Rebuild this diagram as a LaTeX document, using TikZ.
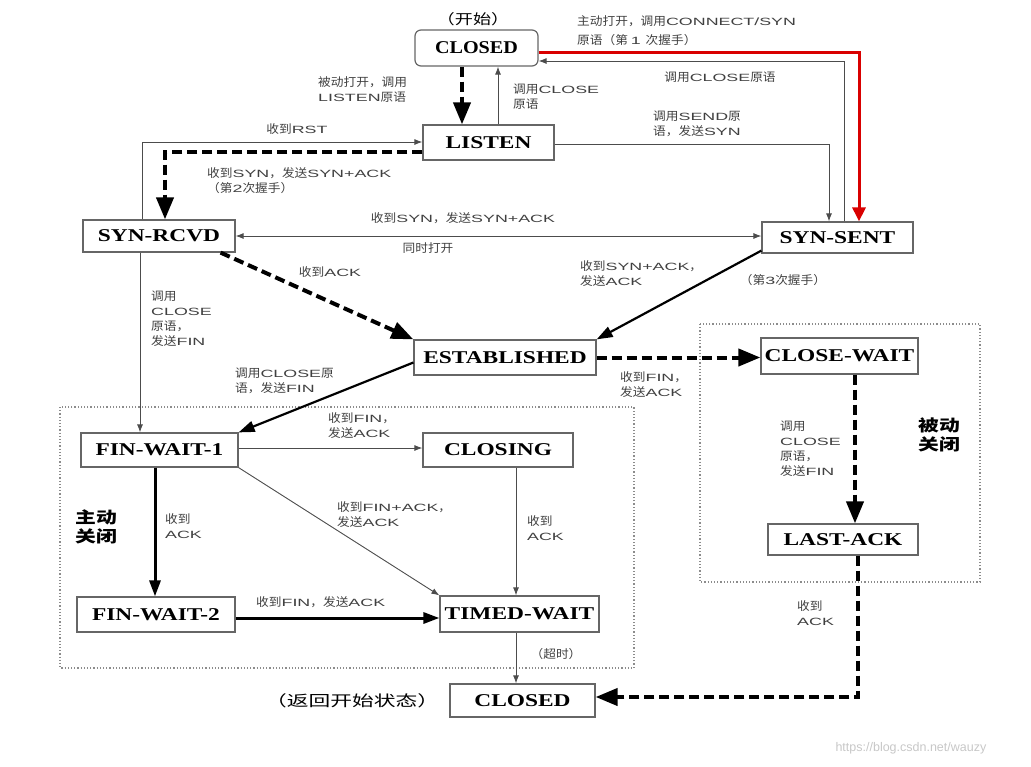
\documentclass[tikz,border=0pt]{standalone}
\usepackage{fontspec}
\usetikzlibrary{arrows.meta}
\setmainfont{Liberation Serif}
\newfontfamily\latfn[FakeStretch=1.7]{Liberation Sans}
\newfontfamily\cjkfn[FakeStretch=1.08,Scale=1.12]{Noto Sans CJK SC}
\newfontfamily\cjkmid[FakeStretch=1.3]{Noto Sans CJK SC}
\newfontfamily\cjkbig[FakeStretch=1.3]{Noto Sans CJK SC}
\newfontfamily\cjkwide[FakeStretch=1.45]{Noto Sans CJK SC}
\newfontfamily\stfn[FakeStretch=1.3]{Liberation Serif}
\newfontfamily\stfnb[FakeStretch=1.12]{Liberation Serif}
\newfontfamily\wmfn{Liberation Sans}

% han characters get their own font, latin letters the wide one
\newXeTeXintercharclass\hanclass
\count255="3000
\loop
  \XeTeXcharclass\count255=\hanclass
  \advance\count255 by 1
\ifnum\count255<"A000
\repeat
\count255="FF00
\loop
  \XeTeXcharclass\count255=\hanclass
  \advance\count255 by 1
\ifnum\count255<"FFF0
\repeat
\XeTeXinterchartoks 0 \hanclass = {\cjkfn}
\XeTeXinterchartoks 4095 \hanclass = {\cjkfn}
\XeTeXinterchartoks \hanclass 0 = {\latfn}
\XeTeXinterchartoks 4095 0 = {\latfn}

\newcommand\labfont{\fontsize{10.5}{15}\latfn\XeTeXinterchartokenstate=1 }

\begin{document}
\begin{tikzpicture}[x=1pt,y=-1pt,
  stbox/.style={draw=black!60,line width=1.2pt,fill=white,inner sep=1pt,
    font=\fontsize{18}{20}\stfn\bfseries},
  lab/.style={inner sep=0pt,align=left,anchor=north west,text=black!75,font=\labfont},
  thinarr/.style={draw=black!70,line width=0.9pt,-{Latex[length=8pt,width=6pt]}},
  boldarr/.style={line width=2.2pt,-{Triangle[length=16pt,width=11pt]}},
  dasharr/.style={line width=4pt,dash pattern=on 10pt off 5pt,-{Triangle[length=22pt,width=17pt]}},
  redarr/.style={draw=red!85!black,line width=3pt,-{Triangle[length=14pt,width=13pt]}},
  area/.style={draw=black!45,line width=1.2pt,dotted}]
\useasboundingbox (0,0) rectangle (1031,766);

%Shape: dotted areas
\draw[area] (60,407) rectangle (634,668);
\draw[area] (700,324) rectangle (980,582);

%States
\node[stbox,minimum width=123pt,minimum height=36pt,rounded corners=6pt,
  font=\fontsize{18}{20}\stfnb\bfseries] (closedA) at (476.5,48) {CLOSED};
\node[stbox,minimum width=131pt,minimum height=35pt] (listen) at (488.5,142.5) {LISTEN};
\node[stbox,minimum width=152pt,minimum height=32pt] (synrcvd) at (159,236) {SYN-RCVD};
\node[stbox,minimum width=151pt,minimum height=31pt] (synsent) at (837.5,237.5) {SYN-SENT};
\node[stbox,minimum width=182pt,minimum height=35pt] (est) at (505,357.5) {ESTABLISHED};
\node[stbox,minimum width=157pt,minimum height=36pt] (closewait) at (839.5,356) {CLOSE-WAIT};
\node[stbox,minimum width=150pt,minimum height=31pt] (lastack) at (843,539.5) {LAST-ACK};
\node[stbox,minimum width=157pt,minimum height=34pt] (finwait1) at (159.5,450) {FIN-WAIT-1};
\node[stbox,minimum width=150pt,minimum height=34pt] (closing) at (498,450) {CLOSING};
\node[stbox,minimum width=158pt,minimum height=35pt] (finwait2) at (156,614.5) {FIN-WAIT-2};
\node[stbox,minimum width=159pt,minimum height=36pt] (timedwait) at (519.5,614) {TIMED-WAIT};
\node[stbox,minimum width=145pt,minimum height=33pt] (closedB) at (522.5,700.5) {CLOSED};

%Connectors
\draw[dasharr] ([xshift=-14.5pt]closedA.south) -- ([xshift=-26.5pt]listen.north);
\draw[thinarr] ([xshift=9.5pt]listen.north) -- ([xshift=21.5pt]closedA.south);
\draw[redarr] ([yshift=-4pt]closedA.east) -| ([xshift=21.5pt]synsent.north);
\draw[thinarr] ([xshift=6.5pt]synsent.north) |- ([yshift=-13pt]closedA.east);
\draw[thinarr] ([yshift=-1.5pt]listen.east) -| ([xshift=-8.5pt]synsent.north);
\draw[thinarr] ([xshift=-17pt]synrcvd.north) |- ([yshift=0.5pt]listen.west);
\draw[dasharr] ([yshift=-9.5pt]listen.west) -| ([xshift=6pt]synrcvd.north);
\draw[thinarr,{Latex[length=8pt,width=6pt]}-{Latex[length=8pt,width=6pt]}]
  (synrcvd.east) -- (synrcvd.east -| synsent.west);
\draw[dasharr] ([xshift=-15pt]synrcvd.south east) -- (est.north west);
\draw[boldarr] ([yshift=3pt]synsent.south west) -- (est.north east);
\draw[dasharr] (est.east) -- (est.east -| closewait.west);
\draw[boldarr] ([yshift=-5pt]est.west) -- (finwait1.north east);
\draw[thinarr] ([xshift=-19pt]synrcvd.south) -- ([xshift=-19pt]synrcvd.south |- finwait1.north);
\draw[thinarr] ([yshift=2pt]finwait1.east) -- ([yshift=2pt]finwait1.east -| closing.west);
\draw[thinarr] (finwait1.south east) -- (timedwait.north west);
\draw[boldarr,line width=3pt] ([xshift=-4.5pt]finwait1.south) -- ([xshift=-4.5pt]finwait1.south |- finwait2.north);
\draw[thinarr] ([xshift=18pt]closing.south) -- ([xshift=18pt]closing.south |- timedwait.north);
\draw[boldarr,line width=3pt] ([yshift=-3.5pt]finwait2.east) -- ([yshift=-3.5pt]finwait2.east -| timedwait.west);
\draw[thinarr] ([xshift=-3.5pt]timedwait.south) -- ([xshift=-3.5pt]timedwait.south |- closedB.north);
\draw[dasharr] ([xshift=15.5pt]closewait.south) -- ([xshift=15.5pt]closewait.south |- lastack.north);
\draw[dasharr] ([xshift=15pt]lastack.south) |- ([yshift=3.5pt]closedB.east);

% Text Node
\node[font=\fontsize{14}{16}\cjkmid] (start) at (473,19) {（开始）};
\node[lab] (lbConnect) at (577,15) {主动打开，调用CONNECT/SYN\\[4pt]原语（第 1 次握手）};
\node[lab] (lbListen) at (318,76) {被动打开，调用\\LISTEN原语};
\node[lab] (lbCloseA) at (513,84) {调用CLOSE\\原语};
\node[lab,anchor=center] (lbCloseB) at (720,77) {调用CLOSE原语};
\node[lab] (lbSend) at (653,111) {调用SEND原\\语，发送SYN};
\node[lab,anchor=center] (lbRst) at (297,129) {收到RST};
\node[lab] (lbSyn) at (207,167) {收到SYN，发送SYN+ACK\\（第2次握手）};
\node[lab,anchor=center] (lbSynB) at (463,218) {收到SYN，发送SYN+ACK};
\node[lab,anchor=center] (lbBoth) at (428,248) {同时打开};
\node[lab,anchor=center] (lbAck) at (330,272) {收到ACK};
\node[lab] (lbSynAck) at (580,260) {收到SYN+ACK，\\发送ACK};
\node[lab,anchor=center] (lbThird) at (783,280) {（第3次握手）};
\node[lab] (lbFinA) at (151,291) {调用\\CLOSE\\原语，\\发送FIN};
\node[lab] (lbFinB) at (235,368) {调用CLOSE原\\语，发送FIN};
\node[lab] (lbFinC) at (620,371) {收到FIN，\\发送ACK};
\node[lab] (lbFinD) at (780,421) {调用\\CLOSE\\原语，\\发送FIN};
\node[lab] (lbFinE) at (328,412) {收到FIN，\\发送ACK};
\node[lab] (lbAckA) at (165,513) {收到\\ACK};
\node[lab] (lbFinAck) at (337,501) {收到FIN+ACK，\\发送ACK};
\node[lab] (lbAckB) at (527,515) {收到\\ACK};
\node[lab] (lbFinF) at (256,596) {收到FIN，发送ACK};
\node[lab,anchor=center] (lbTime) at (556,654) {（超时）};
\node[lab] (lbAckC) at (797,600) {收到\\ACK};
\node[inner sep=0pt,align=left,anchor=north west,font=\fontsize{16}{19}\cjkbig\bfseries] (active) at (75,510) {主动\\关闭};
\node[inner sep=0pt,align=left,anchor=north west,font=\fontsize{16}{19}\cjkbig\bfseries] (passive) at (918,418) {被动\\关闭};
\node[font=\fontsize{15}{17}\cjkwide] (back) at (352,701) {（返回开始状态）};
\node[anchor=west,text=black!22,font=\fontsize{12.5}{14}\wmfn] (wm) at (832,748) {https://blog.csdn.net/wauzy};

\end{tikzpicture}
\end{document}
